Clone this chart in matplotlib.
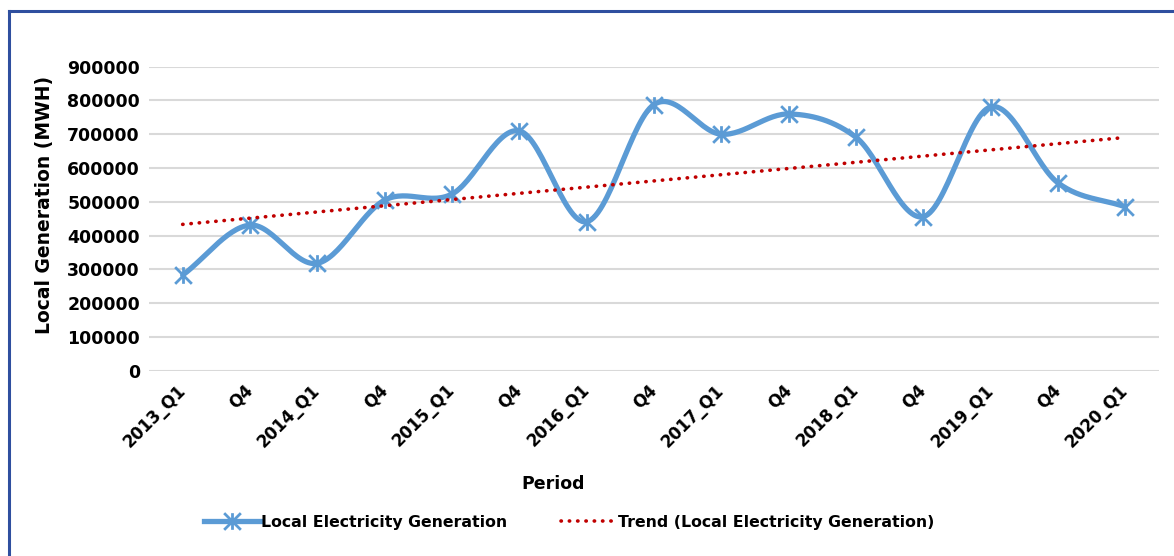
import numpy as np
import matplotlib
matplotlib.use("Agg")
import matplotlib.pyplot as plt
from matplotlib.path import Path
from matplotlib.lines import Line2D

categories = ["2013_Q1", "Q4", "2014_Q1", "Q4", "2015_Q1", "Q4", "2016_Q1", "Q4",
              "2017_Q1", "Q4", "2018_Q1", "Q4", "2019_Q1", "Q4", "2020_Q1"]
generation = [283000, 431000, 318000, 505000, 523000, 710000, 441000, 788000,
              700000, 760000, 691000, 456000, 781000, 556000, 485000]
y_ticks = [0, 100000, 200000, 300000, 400000, 500000, 600000, 700000, 800000, 900000]

plt.rcParams['font.family'] = ['DejaVu Sans']
plt.rcParams['font.weight'] = 'bold'

BLUE = '#5B9BD5'
RED = '#C00000'
GRID = '#D9D9D9'

W, H = 1174, 556
fig = plt.figure(figsize=(W / 100, H / 100), dpi=100)
ax = fig.add_axes([149 / W, 1 - 370.7 / H, (1159 - 149) / W, (370.7 - 66.7) / H])

x = np.arange(len(categories), dtype=float)
y = np.array(generation, dtype=float)

# Smoothed line (Bezier / Catmull-Rom, like Excel's smoothed line)
def catmull_rom(xs, ys, n=30):
    px = np.concatenate([[2 * xs[0] - xs[1]], xs, [2 * xs[-1] - xs[-2]]])
    py = np.concatenate([[2 * ys[0] - ys[1]], ys, [2 * ys[-1] - ys[-2]]])
    outx, outy = [], []
    for i in range(1, len(px) - 2):
        t = np.linspace(0, 1, n, endpoint=False)
        for arr, out in ((px, outx), (py, outy)):
            p0, p1, p2, p3 = arr[i - 1], arr[i], arr[i + 1], arr[i + 2]
            c1 = p1 + (p2 - p0) / 6
            c2 = p2 - (p3 - p1) / 6
            out.extend((1 - t) ** 3 * p1 + 3 * (1 - t) ** 2 * t * c1 + 3 * (1 - t) * t ** 2 * c2 + t ** 3 * p2)
    outx.append(xs[-1]); outy.append(ys[-1])
    return np.array(outx), np.array(outy)

sx, sy = catmull_rom(x, y)

# Excel-like star marker: X plus vertical bar
star = Path([(-1, -1), (1, 1), (-1, 1), (1, -1), (0, -1), (0, 1)],
            [Path.MOVETO, Path.LINETO, Path.MOVETO, Path.LINETO, Path.MOVETO, Path.LINETO])

for k in y_ticks:
    ax.axhline(k, color=GRID, lw=1.5, zorder=0)

LW = 3.8
MS = 12
MEW = 2.0
DOTS = (0, (0.1, 2.2))

ax.plot(sx, sy, color=BLUE, lw=LW, solid_capstyle='round', zorder=3)
ax.plot(x, y, linestyle='none', marker=star, markersize=MS, markeredgewidth=MEW,
        color=BLUE, zorder=4)

# Linear trend line
coef = np.polyfit(x, y, 1)
trend = np.polyval(coef, x)
ax.plot(x, trend, color=RED, lw=2.6, linestyle=DOTS, dash_capstyle='round', zorder=5)

ax.set_xlim(-0.5, len(categories) - 0.5)
ax.set_ylim(0, 900000)
ax.set_yticks(y_ticks)
ax.set_yticklabels([str(v) for v in y_ticks], fontsize=12.5, fontweight='bold')
ax.set_xticks(x)
ax.set_xticklabels(categories, rotation=45, ha='right', va='center', rotation_mode='anchor',
                   fontsize=12, fontweight='bold')
ax.tick_params(axis='x', length=0, pad=12)
ax.tick_params(axis='y', length=0, pad=6.5)
for s in ax.spines.values():
    s.set_visible(False)

fig.text(45 / W, 1 - 205 / H, "Local Generation (MWH)", rotation=90, ha='center', va='center',
         fontsize=13.5, fontweight='bold')
fig.text(553 / W, 1 - 484 / H, "Period", ha='center', va='center', fontsize=12.5, fontweight='bold')

h1 = Line2D([], [], color=BLUE, lw=LW, marker=star, markersize=MS, markeredgewidth=MEW)
h2 = Line2D([], [], color=RED, lw=2.6, linestyle=DOTS, dash_capstyle='round')
fig.legend([h1, h2], ["Local Electricity Generation", "Trend (Local Electricity Generation)"],
           loc='center', bbox_to_anchor=(569 / W, 1 - 522 / H), ncol=2, frameon=False,
           prop={'size': 11.3, 'weight': 'bold'}, handlelength=3.6, handletextpad=0.05,
           columnspacing=3.4)

# Chart border (top and left visible)
BORDER = '#2F4F9F'
fig.add_artist(Line2D([9 / W, 1], [1 - 11 / H, 1 - 11 / H], color=BORDER, lw=2.2))
fig.add_artist(Line2D([9 / W, 9 / W], [0, 1 - 11 / H], color=BORDER, lw=2.2))

fig.savefig("out.png", dpi=100, facecolor='white')
